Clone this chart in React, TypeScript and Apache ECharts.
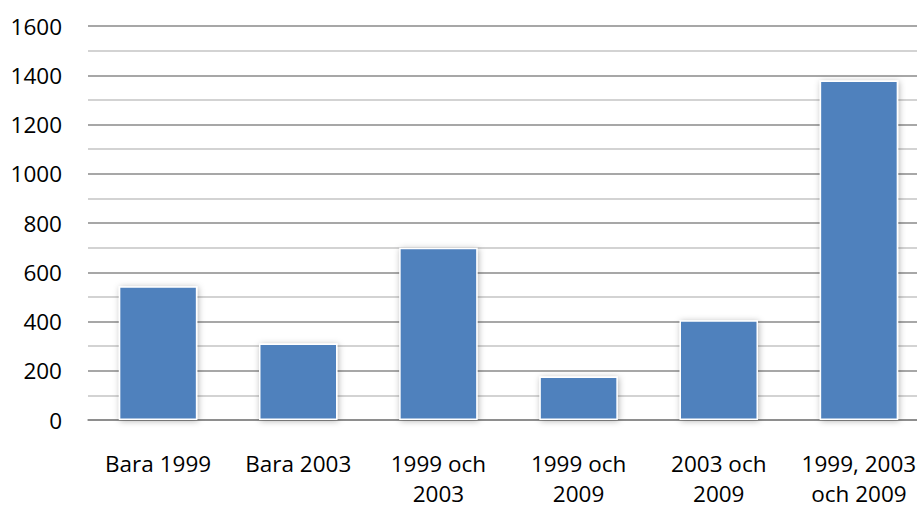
import React, { useEffect, useRef } from "react";
import * as echarts from "echarts";

const categories = [
  "Bara 1999",
  "Bara 2003",
  "1999 och\n2003",
  "1999 och\n2009",
  "2003 och\n2009",
  "1999, 2003\noch 2009",
];
const values = [543, 311, 700, 177, 405, 1379];
const yMin = 0;
const yMax = 1600;
const yInterval = 200;

export default function App() {
  const ref = useRef<HTMLDivElement>(null);
  useEffect(() => {
    document.body.style.margin = "0";
    document.body.style.overflow = "hidden";
    if (!ref.current) return;
    const chart = echarts.init(ref.current, undefined, { renderer: "svg" });
    chart.setOption({
      animation: false,
      backgroundColor: "#ffffff",
      grid: { left: 88, right: 0, top: 26, bottom: 83, containLabel: false },
      xAxis: {
        type: "category",
        data: categories,
        axisLine: { show: true, lineStyle: { color: "#868686", width: 1.5 } },
        axisTick: { show: false },
        axisLabel: {
          color: "#000000",
          fontFamily: "Open Sans",
          fontSize: 22.5,
          lineHeight: 30,
          margin: 28,
          interval: 0,
        },
      },
      yAxis: {
        type: "value",
        min: yMin,
        max: yMax,
        interval: yInterval,
        axisLine: { show: false },
        axisTick: { show: false },
        axisLabel: {
          color: "#000000",
          fontFamily: "Open Sans",
          fontSize: 22.5,
          margin: 26,
          formatter: (v: number) => String(v),
        },
        splitLine: { show: true, lineStyle: { color: "#8a8a8a", width: 1.5 } },
        minorTick: { show: false, splitNumber: 2 },
        minorSplitLine: { show: true, lineStyle: { color: "#c4c4c4", width: 1.5 } },
      },
      series: [
        {
          type: "bar",
          data: values,
          barWidth: "56%",
          itemStyle: {
            color: "#4f81bd",
            borderColor: "#ffffff",
            borderWidth: 1.5,
            shadowBlur: 6,
            shadowColor: "rgba(0,0,0,0.3)",
            shadowOffsetX: 1,
            shadowOffsetY: 1,
          },
        },
      ],
    });
    return () => chart.dispose();
  }, []);
  return (
    <div
      style={{
        position: "fixed",
        left: 0,
        top: 0,
        width: 917,
        height: 508,
        overflow: "hidden",
        background: "#ffffff",
      }}
    >
      <div ref={ref} style={{ width: 929, height: 508 }} />
    </div>
  );
}
